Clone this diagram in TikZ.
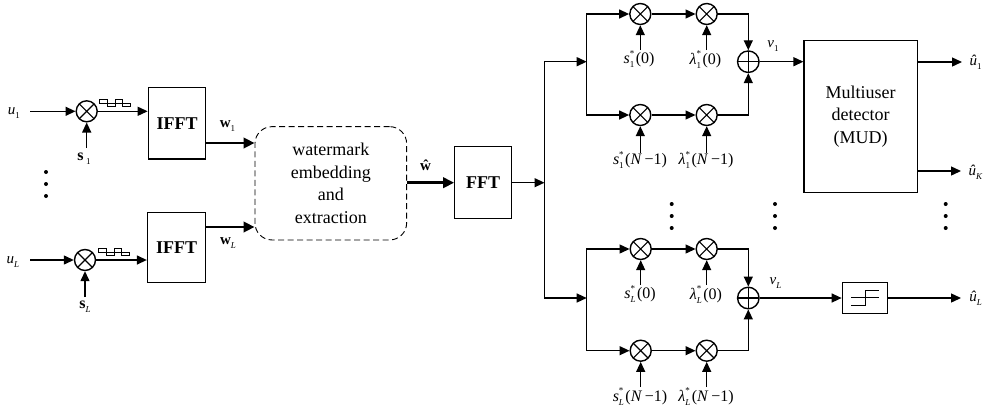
\documentclass[tikz,border=0pt]{standalone}
\usepackage{fontspec}
\setmainfont{Liberation Serif}
\usetikzlibrary{arrows.meta}
\newcommand{\fs}[1]{\fontsize{#1}{#1}\selectfont}
\newcommand{\fsb}{\fontsize{18}{22.6}\selectfont}
\newcommand{\sbsp}[1]{\raisebox{-4pt}{\fs{9}#1}}
\newcommand{\conj}[2]{\textit{#1}\makebox[0pt][l]{\raisebox{7.5pt}{\fs{9}*}}\sbsp{#2}\hspace{1.5pt}}
\tikzset{
  x=1pt,y=-1pt,
  wire/.style={line width=1.3pt,-{Triangle[length=10pt,width=9pt]}},
  thickwire/.style={line width=2.5pt,-{Triangle[length=11pt,width=10.5pt]}},
  mult/.style={circle,draw,line width=1.4pt,minimum size=21pt,inner sep=0pt,
    path picture={\draw[line width=1.1pt] (path picture bounding box.north west)--(path picture bounding box.south east)
      (path picture bounding box.north east)--(path picture bounding box.south west);}},
  adder/.style={circle,draw,line width=1.4pt,minimum size=21.5pt,inner sep=0pt,
    path picture={\draw[line width=1.1pt] (path picture bounding box.north)--(path picture bounding box.south)
      (path picture bounding box.east)--(path picture bounding box.west);}},
  block/.style={draw,line width=1.3pt,inner sep=0pt,font=\fs{18}\bfseries,align=center},
  mud/.style={draw,line width=1.3pt,inner sep=0pt,font=\fsb,align=center},
  wm/.style={draw,dash pattern=on 6pt off 3.5pt,line width=0.9pt,rounded corners=17pt,inner sep=0pt,
    font=\fsb,align=center},
  lab/.style={inner sep=0pt,font=\fs{15}},
  vdot/.style={circle,fill=black,inner sep=0pt,minimum size=4pt},
  pulse/.style={line width=0.8pt},
}
\begin{document}
\begin{tikzpicture}
\useasboundingbox (0,0) rectangle (984,413);
% transmitters
\node[mult] (m1) at (86.7,111.3) {};
\node[mult] (mL) at (85,260) {};
\node[block,minimum width=57.4pt,minimum height=71.3pt] (i1) at (177,123.3) {IFFT};
\node[block,minimum width=58pt,minimum height=70pt] (iL) at (176.5,247.7) {IFFT};
\node[lab] (u1) at (14,113) {\textit{u}\sbsp{1}};
\node[lab] (uL) at (13,262) {\textit{u}\sbsp{\textit{L}}};
\coordinate (u1e) at (30,111.3);
\coordinate (uLe) at (30,260);
\node[lab,font=\fs{16}\bfseries] (s1) at (84,158.5) {s\,\sbsp{\mdseries 1}};
\node[lab,font=\fs{16}\bfseries] (sL) at (85,307) {s\sbsp{\mdseries\itshape L}};
\coordinate (s1e) at (86.7,148);
\coordinate (sLe) at (85,297);
\draw[wire] (u1e) -- (m1);
\draw[wire] (uLe) -- (mL);
\draw[wire] (s1e) -- (m1);
\draw[wire] (sLe) -- (mL);
\draw[wire] (m1) -- (m1 -| i1.west);
\draw[wire] (mL) -- (mL -| iL.west);
% pulses
\draw[pulse] (99.3,103.2) -- (99.3,99.3) -- (107.8,99.3) -- (107.8,106.7) -- (115,106.7) -- (115,99.3) -- (122.7,99.3) -- (122.7,106.7) -- (130,106.7) -- (130,103.2) -- cycle;
\draw[pulse] (98.3,252) -- (98.3,248) -- (106.8,248) -- (106.8,255.5) -- (114,255.5) -- (114,248) -- (121.7,248) -- (121.7,255.5) -- (129,255.5) -- (129,252) -- cycle;
\node[vdot] (d1) at (46,172) {};
\node[vdot] (d2) at (46,184) {};
\node[vdot] (d3) at (46,196) {};
% watermark
\node[wm,minimum width=151.7pt,minimum height=113.3pt] (w) at (330.8,183.3) {watermark\\embedding\\and\\extraction};
\draw[thickwire] (i1.east |- 0,143) -- (w.west |- 0,143);
\draw[thickwire] (iL.east |- 0,227) -- (w.west |- 0,227);
\node[lab,font=\fs{15}\bfseries] (lw1) at (227.5,126) {w\sbsp{\mdseries 1}};
\node[lab,font=\fs{15}\bfseries] (lwL) at (228,243) {w\sbsp{\mdseries\itshape L}};
\node[block,minimum width=57pt,minimum height=72pt] (fft) at (483.2,182.7) {FFT};
\draw[thickwire] (w.east |- fft) -- (fft);
\node[lab,font=\fs{15}\bfseries] (lwh) at (425.5,165.5) {ŵ};
% splitter
\coordinate (sp) at (544.5,182.7);
\coordinate (jt) at (544.5,61.7);
\coordinate (jb) at (544.5,298);
\coordinate (bt) at (586.7,61.7);
\coordinate (bb) at (586.7,298);
\draw[wire] (fft) -- (sp);
\draw[wire] (sp) -- (jt) -- (bt);
\draw[wire] (sp) -- (jb) -- (bb);
% top group
\node[mult] (a1) at (640.3,14) {};
\node[mult] (b1) at (706.7,14) {};
\node[mult] (c1) at (640.3,115) {};
\node[mult] (e1) at (706.7,115) {};
\node[adder] (p1) at (748.3,61.7) {};
\draw[wire] (bt) |- (a1);
\draw[wire] (bt) |- (c1);
\draw[wire] (a1) -- (b1);
\draw[wire] (c1) -- (e1);
\draw[wire] (b1) -| (p1);
\draw[wire] (e1) -| (p1);
% bottom group
\node[mult] (a2) at (640.7,249) {};
\node[mult] (b2) at (706.7,249) {};
\node[mult] (c2) at (640.7,350.7) {};
\node[mult] (e2) at (706.7,350.7) {};
\node[adder] (p2) at (748.3,298) {};
\draw[wire] (bb) |- (a2);
\draw[wire] (bb) |- (c2);
\draw[wire] (a2) -- (b2);
\draw[wire] (c2) -- (e2);
\draw[wire] (b2) -| (p2);
\draw[wire] (e2) -| (p2);
% labels and inputs
\node[lab,font=\fs{16}] (la1) at (639,59) {\conj{s}{1}(0)};
\node[lab,font=\fs{16}] (lb1) at (705.5,59.5) {\conj{λ}{1}(0)};
\node[lab,font=\fs{16}] (lc1) at (640,160) {\conj{s}{1}(\textit{N}\,−1)};
\node[lab,font=\fs{16}] (le1) at (706,160) {\conj{λ}{1}(\textit{N}\,−1)};
\node[lab,font=\fs{16}] (la2) at (640,294) {\conj{s}{\textit{L}}(0)};
\node[lab,font=\fs{16}] (lb2) at (706,294.5) {\conj{λ}{\textit{L}}(0)};
\node[lab,font=\fs{16}] (lc2) at (640,396.5) {\conj{s}{\textit{L}}(\textit{N}\,−1)};
\node[lab,font=\fs{16}] (le2) at (706,396.5) {\conj{λ}{\textit{L}}(\textit{N}\,−1)};
\foreach \n/\y in {a1/50,b1/50,c1/153,e1/153,a2/285,b2/285,c2/387,e2/387}{
  \coordinate (\n s) at (\n |- 0,\y);
  \draw[wire] (\n s) -- (\n);
}
% detector
\node[mud,minimum width=113.3pt,minimum height=151.6pt] (mudb) at (860.7,116.5) {Multiuser\\detector\\(MUD)};
\draw[wire] (p1) -- (p1 -| mudb.west);
\node[lab] (v1) at (773,46) {\textit{v}\sbsp{1}};
\node[lab] (vL) at (775.5,283) {\textit{v}\sbsp{\textit{L}}};
\node[draw,line width=1.3pt,minimum width=45pt,minimum height=30.6pt,inner sep=0pt] (th) at (864.8,298) {};
\draw[line width=1.1pt] (851.3,305.7) -- (865.3,305.7) -- (865.3,290.3) -- (879.3,290.3);
\draw[line width=1.1pt] (851.3,297.7) -- (879.3,297.7);
\draw[wire] (p2) -- (th);
\coordinate (o1) at (962,62);
\coordinate (o2) at (961,171);
\coordinate (o3) at (961,298);
\draw[wire] (mudb.east |- o1) -- (o1);
\draw[wire] (mudb.east |- o2) -- (o2);
\draw[wire] (th) -- (o3);
\node[lab] (h1) at (975.5,62) {\textit{û}\sbsp{1}};
\node[lab] (h2) at (975.5,172) {\textit{û}\sbsp{\textit{K}}};
\node[lab] (h3) at (975.5,298) {\textit{û}\sbsp{\textit{L}}};
\foreach \x/\nm in {671.7/a,775/b,945.7/c}{
  \node[vdot] (\nm1) at (\x,204) {};
  \node[vdot] (\nm2) at (\x,216) {};
  \node[vdot] (\nm3) at (\x,228) {};
}
\end{tikzpicture}
\end{document}
